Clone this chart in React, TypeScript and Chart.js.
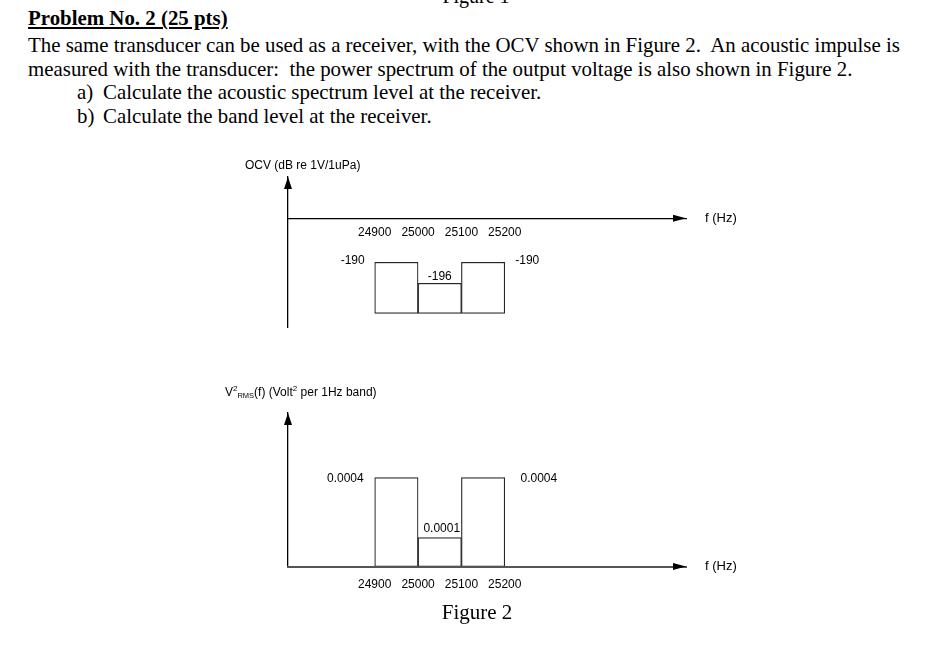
import React, { useEffect, useRef } from "react";
import { Chart, registerables } from "chart.js";
Chart.register(...registerables);

// ---------- data ----------
const freqTicks = [24900, 25000, 25100, 25200];
const bandCenters = [24950, 25050, 25150];
const ocvValues = [-190, -196, -190]; // dB re 1V/1uPa
const psdValues = [0.0004, 0.0001, 0.0004]; // Volt^2 per 1Hz band

const headingText = "Problem No. 2 (25 pts)";
const bodyLines = [
  "The same transducer can be used as a receiver, with the OCV shown in Figure 2.  An acoustic impulse is",
  "measured with the transducer:  the power spectrum of the output voltage is also shown in Figure 2.",
];
const itemMarks = ["a)", "b)"];
const itemTexts = [
  "Calculate the acoustic spectrum level at the receiver.",
  "Calculate the band level at the receiver.",
];
const ocvTitle = "OCV (dB re 1V/1uPa)";
const freqAxisTitle = "f (Hz)";
const figureCaption = "Figure 2";
const prevCaption = "Figure 1";

// ---------- layout / style constants ----------
const SANS = "'Liberation Sans', Arial, Helvetica, sans-serif";
const SERIF = "'Liberation Serif', 'Times New Roman', Times, serif";
const W = 934;
const X_MIN = 24700;
const X_MAX = 25618;

// top chart scale (dB)
const OCV_Y_MIN = -208.5;
const OCV_Y_MAX = -165.6;
const OCV_BAR_BASE = -204.6;
const OCV_AXIS_AT = -177.4;

// bottom chart scale
const PSD_Y_MIN = -0.000044;
const PSD_Y_MAX = 0.0007235;

type LabelPos = { align: "left" | "right" | "center"; side: "left" | "right" | "mid"; dx: number; dy: number };

function drawArrowUp(ctx: CanvasRenderingContext2D, x: number, y: number, hw: number, h: number) {
  ctx.beginPath();
  ctx.moveTo(x, y);
  ctx.lineTo(x - hw, y + h);
  ctx.lineTo(x + hw, y + h);
  ctx.closePath();
  ctx.fill();
}
function drawArrowRight(ctx: CanvasRenderingContext2D, x: number, y: number, hh: number, l: number) {
  ctx.beginPath();
  ctx.moveTo(x, y);
  ctx.lineTo(x - l, y - hh);
  ctx.lineTo(x - l, y + hh);
  ctx.closePath();
  ctx.fill();
}

function makeDecorPlugin(opts: {
  labels: string[];
  labelPos: LabelPos[];
  axisY: (chart: any) => number;
  drawTitle: (ctx: CanvasRenderingContext2D, chart: any) => void;
}) {
  return {
    id: "decor",
    afterDraw(chart: any) {
      const ctx: CanvasRenderingContext2D = chart.ctx;
      const area = chart.chartArea;
      const ay = opts.axisY(chart);
      ctx.save();
      ctx.fillStyle = "#000";
      drawArrowUp(ctx, area.left, area.top, 4, 12);
      drawArrowRight(ctx, area.right, ay, 3.6, 13);
      ctx.font = `13px ${SANS}`;
      ctx.textAlign = "left";
      ctx.textBaseline = "middle";
      ctx.fillText(freqAxisTitle, area.right + 19, ay);
      const meta = chart.getDatasetMeta(0);
      ctx.font = `12px ${SANS}`;
      meta.data.forEach((el: any, i: number) => {
        const p = el.getProps(["x", "y", "base", "width"], true);
        const topY = Math.min(p.y, p.base);
        const lp = opts.labelPos[i];
        let x = p.x;
        if (lp.side === "left") x = p.x - p.width / 2;
        if (lp.side === "right") x = p.x + p.width / 2;
        ctx.textAlign = lp.align;
        ctx.textBaseline = "middle";
        ctx.fillText(opts.labels[i], x + lp.dx, topY + lp.dy);
      });
      opts.drawTitle(ctx, chart);
      ctx.restore();
    },
  };
}

function xScale(axisAt: number, pad: number, border: any) {
  return {
    type: "linear",
    min: X_MIN,
    max: X_MAX,
    offset: false,
    position: { y: axisAt },
    afterBuildTicks: (s: any) => {
      s.ticks = freqTicks.map((v) => ({ value: v }));
    },
    afterFit: (s: any) => {
      s.height = 0;
    },
    grid: { display: false, drawTicks: false },
    border,
    ticks: {
      autoSkip: false,
      maxRotation: 0,
      color: "#000",
      padding: pad,
      font: { family: SANS, size: 12 },
      callback: (v: any) => String(v),
    },
  };
}

function yScale(min: number, max: number) {
  return {
    type: "linear",
    min,
    max,
    position: "left",
    afterFit: (s: any) => {
      s.width = 0;
    },
    grid: { display: false, drawTicks: false },
    ticks: { display: false },
    border: { display: true, color: "#000", width: 1.3 },
  };
}

function barDataset(values: number[], base: number) {
  return {
    data: bandCenters.map((x, i) => ({ x, y: [base, values[i]] })),
    backgroundColor: "#fff",
    borderColor: "#262626",
    borderWidth: 1.2,
    borderSkipped: false,
    barPercentage: 1,
    categoryPercentage: 1,
  };
}

function baseOptions(padding: any) {
  return {
    responsive: false,
    maintainAspectRatio: false,
    animation: false,
    events: [],
    layout: { padding },
    plugins: { legend: { display: false }, tooltip: { enabled: false } },
  };
}

function topConfig(): any {
  const labels = ocvValues.map((v) => String(v));
  return {
    type: "bar",
    data: { datasets: [barDataset(ocvValues, OCV_BAR_BASE)] },
    options: {
      ...baseOptions({ left: 288, right: W - 686, top: 37, bottom: 13 }),
      scales: {
        x: xScale(OCV_AXIS_AT, 7, { display: true, color: "#000", width: 1.3 }),
        y: yScale(OCV_Y_MIN, OCV_Y_MAX),
      },
    },
    plugins: [
      makeDecorPlugin({
        labels,
        labelPos: [
          { align: "right", side: "left", dx: -10, dy: -2 },
          { align: "center", side: "mid", dx: 0, dy: -6.5 },
          { align: "left", side: "right", dx: 10.5, dy: -2 },
        ],
        axisY: (c) => c.scales.y.getPixelForValue(OCV_AXIS_AT),
        drawTitle: (ctx, c) => {
          ctx.font = `12px ${SANS}`;
          ctx.textAlign = "left";
          ctx.textBaseline = "middle";
          ctx.fillText(ocvTitle, c.chartArea.left - 43, c.chartArea.top - 11);
        },
      }),
    ],
  };
}

function bottomConfig(): any {
  const labels = psdValues.map((v) => String(v));
  return {
    type: "bar",
    data: { datasets: [barDataset(psdValues, PSD_Y_MIN)] },
    options: {
      ...baseOptions({ left: 288, right: W - 686, top: 43, bottom: 43.5 }),
      scales: {
        x: xScale(PSD_Y_MIN, 11.2, { display: true, color: "#555", width: 2, z: 1 }),
        y: yScale(PSD_Y_MIN, PSD_Y_MAX),
      },
    },
    plugins: [
      makeDecorPlugin({
        labels,
        labelPos: [
          { align: "right", side: "left", dx: -11, dy: 0.5 },
          { align: "center", side: "mid", dx: 2, dy: -8.7 },
          { align: "left", side: "right", dx: 15.7, dy: 0.5 },
        ],
        axisY: (c) => c.scales.y.getPixelForValue(PSD_Y_MIN),
        drawTitle: (ctx, c) => {
          // V²RMS(f) (Volt² per 1Hz band)
          let x = c.chartArea.left - 63;
          const base = c.chartArea.top - 17;
          const parts: [string, number, number][] = [
            ["V", 12, 0],
            ["2", 8, -5],
            ["RMS", 7.5, 2],
            ["(f) (Volt", 12, 0],
            ["2", 8, -5],
            [" per 1Hz band)", 12, 0],
          ];
          ctx.textAlign = "left";
          ctx.textBaseline = "alphabetic";
          parts.forEach(([t, size, dy]) => {
            ctx.font = `${size}px ${SANS}`;
            ctx.fillText(t, x, base + dy);
            x += ctx.measureText(t).width;
          });
        },
      }),
    ],
  };
}

function ChartCanvas({ top, height, config }: { top: number; height: number; config: () => any }) {
  const ref = useRef<HTMLCanvasElement>(null);
  useEffect(() => {
    const chart = new Chart(ref.current as HTMLCanvasElement, config());
    return () => chart.destroy();
  }, []);
  return (
    <div style={{ position: "absolute", left: 0, top, width: W, height }}>
      <canvas ref={ref} width={W} height={height} style={{ width: W, height, display: "block" }} />
    </div>
  );
}

const serifLine = (top: number, left: number, extra: React.CSSProperties = {}): React.CSSProperties => ({
  position: "absolute",
  top,
  left,
  fontFamily: SERIF,
  fontSize: 20.88,
  lineHeight: "24px",
  whiteSpace: "pre",
  color: "#000",
  margin: 0,
  ...extra,
});

export default function App() {
  const bodyTops = [32.6, 56.6];
  const itemTops = [80.4, 104.4];
  return (
    <div style={{ position: "absolute", left: 0, top: 0, width: W, height: 666, background: "#fff", overflow: "hidden" }}>
      <div style={serifLine(-16, 0, { width: W, textAlign: "center", left: 9, fontSize: 20 })}>{prevCaption}</div>
      <div style={serifLine(6.4, 28, { fontWeight: "bold", textDecoration: "underline" })}>{headingText}</div>
      {bodyLines.map((t, i) => (
        <div key={i} style={serifLine(bodyTops[i], 28)}>
          {t}
        </div>
      ))}
      {itemTexts.map((t, i) => (
        <React.Fragment key={i}>
          <div style={serifLine(itemTops[i], 77)}>{itemMarks[i]}</div>
          <div style={serifLine(itemTops[i], 103)}>{t}</div>
        </React.Fragment>
      ))}
      <ChartCanvas top={140} height={200} config={topConfig} />
      <ChartCanvas top={370} height={240} config={bottomConfig} />
      <div style={serifLine(600, 0, { width: W, textAlign: "center", left: 10, fontSize: 21 })}>{figureCaption}</div>
    </div>
  );
}
